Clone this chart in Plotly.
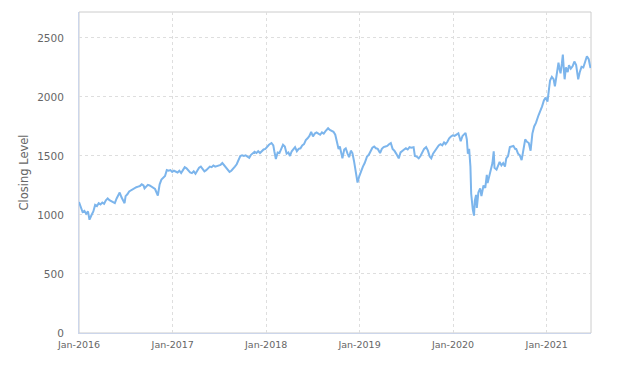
import plotly.graph_objects as go

dates = [
"2016-01-01","2016-01-08","2016-01-15","2016-01-22","2016-01-29","2016-02-05","2016-02-11","2016-02-19","2016-02-26",
"2016-03-04","2016-03-11","2016-03-18","2016-03-25","2016-04-01","2016-04-08","2016-04-15","2016-04-22","2016-04-29",
"2016-05-06","2016-05-13","2016-05-20","2016-05-27","2016-06-03","2016-06-08","2016-06-15","2016-06-24","2016-06-27",
"2016-07-01","2016-07-08","2016-07-15","2016-07-22","2016-07-29","2016-08-05","2016-08-12","2016-08-19","2016-08-26",
"2016-09-02","2016-09-09","2016-09-13","2016-09-20","2016-09-26","2016-10-03","2016-10-10","2016-10-17","2016-10-24",
"2016-11-04","2016-11-11","2016-11-18","2016-11-25","2016-12-02","2016-12-09","2016-12-16","2016-12-23","2016-12-30",
"2017-01-06","2017-01-13","2017-01-20","2017-01-27","2017-02-03","2017-02-10","2017-02-17","2017-02-24","2017-03-03",
"2017-03-10","2017-03-17","2017-03-24","2017-03-31","2017-04-07","2017-04-14","2017-04-21","2017-04-28","2017-05-05",
"2017-05-12","2017-05-19","2017-05-26","2017-06-02","2017-06-09","2017-06-16","2017-06-23","2017-06-30","2017-07-07",
"2017-07-14","2017-07-21","2017-07-28","2017-08-04","2017-08-11","2017-08-18","2017-08-25","2017-09-01","2017-09-08",
"2017-09-15","2017-09-22","2017-09-29","2017-10-06","2017-10-13","2017-10-20","2017-10-27","2017-11-03","2017-11-10",
"2017-11-17","2017-11-24","2017-12-01","2017-12-08","2017-12-15","2017-12-22","2017-12-29","2018-01-05","2018-01-12",
"2018-01-22","2018-01-29","2018-02-02","2018-02-08","2018-02-15","2018-02-22","2018-03-01","2018-03-08","2018-03-15",
"2018-03-22","2018-03-29","2018-04-04","2018-04-11","2018-04-18","2018-04-24","2018-05-01","2018-05-08","2018-05-15",
"2018-05-22","2018-05-29","2018-06-05","2018-06-12","2018-06-19","2018-06-26","2018-07-03","2018-07-10","2018-07-17",
"2018-07-24","2018-07-31","2018-08-07","2018-08-14","2018-08-21","2018-08-31","2018-09-07","2018-09-14","2018-09-21",
"2018-09-28","2018-10-05","2018-10-11","2018-10-16","2018-10-19","2018-10-26","2018-11-02","2018-11-08","2018-11-15",
"2018-11-21","2018-11-28","2018-12-04","2018-12-10","2018-12-17","2018-12-24","2018-12-31","2019-01-07","2019-01-14",
"2019-01-21","2019-01-30","2019-02-06","2019-02-13","2019-02-20","2019-02-27","2019-03-06","2019-03-13","2019-03-22",
"2019-03-29","2019-04-05","2019-04-12","2019-04-19","2019-04-26","2019-05-03","2019-05-10","2019-05-17","2019-05-24",
"2019-06-03","2019-06-10","2019-06-17","2019-06-24","2019-07-01","2019-07-08","2019-07-15","2019-07-22","2019-07-31",
"2019-08-05","2019-08-12","2019-08-20","2019-08-27","2019-09-03","2019-09-10","2019-09-18","2019-09-25","2019-10-02",
"2019-10-08","2019-10-15","2019-10-22","2019-10-29","2019-11-06","2019-11-13","2019-11-20","2019-11-27","2019-12-03",
"2019-12-10","2019-12-17","2019-12-24","2019-12-31","2020-01-07","2020-01-14","2020-01-22","2020-01-31","2020-02-07",
"2020-02-14","2020-02-19","2020-02-24","2020-02-28","2020-03-04","2020-03-09","2020-03-12","2020-03-16","2020-03-18",
"2020-03-23","2020-03-26","2020-03-31","2020-04-03","2020-04-09","2020-04-16","2020-04-21","2020-04-29","2020-05-06",
"2020-05-12","2020-05-15","2020-05-22","2020-05-29","2020-06-03","2020-06-08","2020-06-11","2020-06-19","2020-06-26",
"2020-07-01","2020-07-08","2020-07-15","2020-07-22","2020-07-27","2020-08-03","2020-08-10","2020-08-17","2020-08-24",
"2020-08-31","2020-09-04","2020-09-11","2020-09-18","2020-09-25","2020-10-02","2020-10-09","2020-10-16","2020-10-23",
"2020-10-30","2020-11-06","2020-11-13","2020-11-20","2020-11-30","2020-12-07","2020-12-14","2020-12-21","2020-12-28",
"2021-01-04","2021-01-08","2021-01-14","2021-01-21","2021-01-28","2021-02-02","2021-02-09","2021-02-16","2021-02-19",
"2021-02-24","2021-03-01","2021-03-05","2021-03-09","2021-03-12","2021-03-17","2021-03-24","2021-03-29","2021-04-05",
"2021-04-12","2021-04-19","2021-04-26","2021-05-04","2021-05-10","2021-05-17","2021-05-24","2021-06-01","2021-06-07",
"2021-06-14","2021-06-21",
]

closing_level = [
1110,1060,1025,1035,1010,1030,960,1000,1030,
1085,1075,1100,1090,1105,1095,1125,1140,1125,
1115,1110,1100,1140,1165,1190,1150,1115,1100,
1160,1175,1200,1210,1215,1225,1235,1240,1245,
1260,1250,1225,1245,1255,1250,1240,1235,1220,
1165,1260,1300,1320,1330,1380,1375,1380,1365,
1375,1370,1360,1375,1355,1380,1405,1395,1375,
1360,1355,1370,1350,1375,1400,1410,1385,1370,
1380,1400,1410,1405,1420,1410,1415,1420,1425,
1440,1420,1405,1390,1365,1375,1390,1410,1430,
1460,1500,1505,1500,1505,1495,1485,1510,1520,
1535,1525,1540,1525,1545,1555,1560,1580,1595,
1610,1590,1540,1475,1530,1525,1560,1595,1580,
1520,1530,1500,1540,1565,1575,1540,1560,1565,
1590,1600,1635,1650,1670,1705,1665,1690,1700,
1690,1680,1700,1690,1710,1735,1720,1715,1705,
1680,1620,1560,1580,1540,1480,1555,1565,1520,
1490,1545,1525,1460,1380,1275,1330,1380,1410,
1440,1495,1510,1540,1570,1580,1565,1560,1525,
1560,1575,1580,1585,1600,1610,1560,1545,1520,
1480,1530,1545,1555,1565,1555,1575,1570,1575,
1500,1495,1480,1500,1530,1560,1575,1545,1495,
1480,1520,1545,1560,1590,1600,1590,1615,1600,
1620,1650,1665,1675,1670,1680,1692,1625,1670,
1685,1695,1640,1520,1560,1410,1180,1080,1050,
995,1120,1170,1060,1190,1225,1160,1250,1230,
1340,1270,1330,1380,1440,1540,1400,1385,1420,
1450,1420,1440,1410,1480,1500,1575,1580,1585,
1560,1560,1520,1505,1465,1540,1640,1620,1610,
1545,1690,1750,1780,1845,1880,1920,1970,1995,
1960,2060,2140,2170,2150,2090,2200,2290,2250,
2200,2280,2360,2230,2150,2250,2210,2270,2240,
2260,2300,2270,2150,2210,2255,2250,2310,2345,
2320,2245,
]

x_range = ["2016-01-01", "2021-06-23"]
y_range = [0, 2720]
y_ticks = [0, 500, 1000, 1500, 2000, 2500]
y_title = "Closing Level"

font = "DejaVu Sans, sans-serif"
# page body has an 8px margin; the figure is sized/offset to compensate
W, H = 615, 350
L, T = 71, 4
plot_w = 512
plot_h = 321
R = W - L - plot_w
B = H - T - plot_h

fig = go.Figure()
fig.add_trace(go.Scatter(
    x=dates, y=closing_level, mode="lines",
    line=dict(color="#7cb5ec", width=2),
    name=y_title, showlegend=False,
))

fig.update_layout(
    width=W, height=H,
    margin=dict(l=L, r=R, t=T, b=B, autoexpand=False),
    paper_bgcolor="white", plot_bgcolor="white",
    font=dict(family=font, color="#666666"),
    showlegend=False,
)

fig.update_xaxes(
    type="date", range=x_range, automargin=False,
    tick0="2016-01-01", dtick="M12", tickformat="%b-%Y",
    tickfont=dict(size=9.5, color="#666666"),
    showgrid=True, gridcolor="#dedede", griddash="dot", gridwidth=1,
    showline=True, linecolor="#ccd6eb", linewidth=1, mirror=False,
    zeroline=False, ticks="", ticklabelstandoff=3,
)

fig.update_yaxes(
    range=y_range, tickvals=y_ticks, automargin=False,
    tickfont=dict(size=10.5, color="#666666"),
    showgrid=True, gridcolor="#dedede", griddash="dot", gridwidth=1,
    showline=True, linecolor="#ccd6eb", linewidth=1, mirror=False,
    zeroline=False, ticks="", ticklabelstandoff=12,
)

# y-axis title (target centre x = 23 px on the page)
fig.add_annotation(
    text=y_title, xref="paper", yref="paper",
    x=(23 - 79) / plot_w, y=0.5, xanchor="center", yanchor="middle",
    textangle=-90, showarrow=False,
    font=dict(size=11.5, color="#666666", family=font),
)

# outer frame (top and right edges)
fig.add_shape(type="rect", xref="paper", yref="paper", x0=0, x1=1, y0=0, y1=1,
              line=dict(color="#cccccc", width=1), layer="below")

fig.write_html("out.html")
